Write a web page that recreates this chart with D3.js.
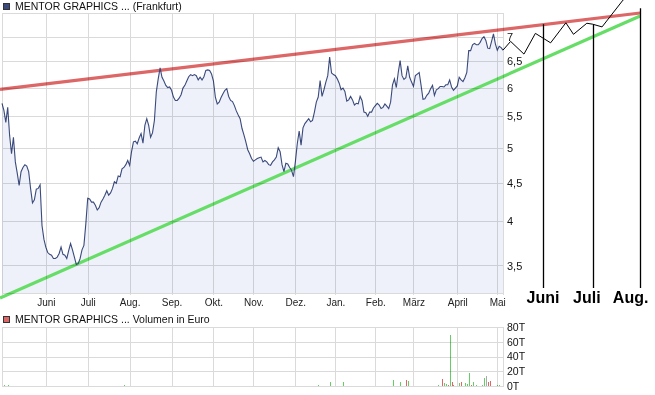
<!DOCTYPE html>
<html>
<head>
<meta charset="utf-8">
<script src="https://cdn.jsdelivr.net/npm/d3@7"></script>
<style>
  body { margin: 0; background: #fff; }
  svg { display: block; font-family: "Liberation Sans", Arial, sans-serif; }
</style>
</head>
<body>
<div id="container"></div>
<script>
let w = 655;
let h = 395;

// quote calendar: weekdays, minus days without quotes
let firstQuote = "2010-04-29";
let calendarEnd = "2011-08-31";
let noQuoteDays = ["2010-12-24", "2010-12-31"];

// daily closes in EUR, one per quote day from firstQuote
let closes = [
  5.72, 5.60, 5.40, 5.65, 5.19, 4.91, 5.16, 4.79, 4.63, 4.46,
  4.65, 4.71, 4.75, 4.73, 4.65, 4.42, 4.23, 4.27, 4.41, 4.42,
  4.47, 3.95, 3.79, 3.70, 3.64, 3.62, 3.61, 3.575, 3.575, 3.59,
  3.63, 3.70, 3.62, 3.61, 3.575, 3.66, 3.74, 3.67, 3.59, 3.51,
  3.52, 3.575, 3.67, 3.72, 3.97, 4.29, 4.28, 4.24, 4.24, 4.20,
  4.14, 4.17, 4.24, 4.28, 4.33, 4.39, 4.33, 4.36, 4.42, 4.51,
  4.49, 4.59, 4.58, 4.69, 4.71, 4.75, 4.81, 4.74, 4.94, 5.09,
  5.10, 5.06, 5.15, 5.22, 5.07, 5.35, 5.46, 5.35, 5.16, 5.23,
  5.43, 5.92, 6.16, 6.37, 6.19, 6.12, 6.04, 6.00, 6.01, 5.95,
  5.83, 5.77, 5.77, 5.81, 5.87, 5.99, 6.04, 6.12, 6.20, 6.24,
  6.22, 6.24, 6.22, 6.14, 6.19, 6.14, 6.20, 6.32, 6.33, 6.32,
  6.25, 6.12, 5.83, 5.71, 5.74, 5.82, 5.89, 5.95, 5.98, 5.84,
  5.77, 5.75, 5.68, 5.59, 5.52, 5.46, 5.30, 5.20, 5.09, 4.97,
  4.91, 4.84, 4.80, 4.82, 4.84, 4.85, 4.86, 4.79, 4.81, 4.79,
  4.75, 4.74, 4.79, 4.82, 4.86, 5.00, 4.94, 4.75, 4.65, 4.77,
  4.76, 4.71, 4.67, 4.58, 4.79, 5.06, 5.26, 5.04, 5.31, 5.38,
  5.42, 5.46, 5.41, 5.43, 5.57, 5.74, 5.83, 6.13, 5.84, 5.96,
  6.10, 6.22, 6.58, 6.27, 6.24, 6.22, 6.16, 6.08, 5.96, 5.99,
  5.93, 5.76, 5.78, 5.84, 5.78, 5.69, 5.72, 5.71, 5.84, 5.77,
  5.57, 5.56, 5.50, 5.57, 5.57, 5.64, 5.68, 5.72, 5.69, 5.63,
  5.65, 5.71, 5.67, 5.63, 5.74, 6.05, 6.16, 6.00, 6.28, 6.51,
  6.22, 6.15, 6.18, 6.41, 6.19, 6.10, 6.02, 6.22, 6.25, 6.28,
  6.04, 5.79, 5.80, 5.86, 5.90, 5.98, 6.04, 5.86, 5.96, 5.98,
  6.02, 6.02, 6.01, 6.05, 6.05, 6.14, 6.01, 5.95, 5.99, 6.03,
  6.19, 6.14, 6.11, 6.18, 6.28, 6.71, 6.71, 6.83, 6.86, 6.83,
  6.83, 6.88, 6.96, 7.00, 6.92, 6.76, 6.75, 6.90, 7.06, 6.85,
  6.72, 6.80, 6.77, 6.72
];

let monthLabels = ["Juni", "Juli", "Aug.", "Sep.", "Okt.", "Nov.", "Dez.", "Jan.", "Feb.", "März", "April", "Mai"];
let monthStarts = ["2010-06-01", "2010-07-01", "2010-08-01", "2010-09-01", "2010-10-01", "2010-11-01",
                   "2010-12-01", "2011-01-01", "2011-02-01", "2011-03-01", "2011-04-01", "2011-05-01"];
let priceTicks = [3.5, 4, 4.5, 5, 5.5, 6, 6.5, 7];
let volTicks = [0, 20, 40, 60, 80];

// volume in thousand EUR; g = up day, r = down day, n = unchanged
let volDates = ["2010-04-30", "2010-05-04", "2010-07-28", "2010-12-17", "2010-12-28", "2011-01-07",
                "2011-02-14", "2011-02-18", "2011-02-23", "2011-02-24", "2011-03-18", "2011-03-22",
                "2011-03-23", "2011-03-24", "2011-03-25", "2011-03-28", "2011-03-29", "2011-03-30",
                "2011-04-04", "2011-04-05", "2011-04-07", "2011-04-08", "2011-04-11", "2011-04-12",
                "2011-04-13", "2011-04-15", "2011-04-20", "2011-04-21", "2011-04-22", "2011-04-25",
                "2011-04-26", "2011-05-02", "2011-05-03"];
let volValues = [1.3, 1.3, 1.3, 1.3, 4.9, 4.9,
                 8.1, 4.9, 8.1, 6.7, 1.3, 9.4,
                 4.0, 2.7, 1.3, 68.7, 5.8, 1.8,
                 4.0, 5.4, 4.0, 3.1, 17.5, 1.3,
                 5.8, 1.3, 1.3, 11.2, 13.5, 5.8,
                 6.7, 1.3, 1.3];
let volDir = ["g", "g", "g", "g", "g", "g",
              "g", "g", "r", "g", "g", "r",
              "g", "g", "r", "g", "r", "r",
              "g", "r", "g", "g", "g", "r",
              "g", "g", "g", "g", "n", "r",
              "r", "g", "g"];

// hand drawn trend lines: [date, price]
let resistance = [["2010-04-29", 5.97], ["2011-08-15", 7.52]];
let support = [["2010-04-29", 3.18], ["2011-08-15", 7.45]];

// hand drawn projection after the last close
let projDates = ["2011-05-11", "2011-05-20", "2011-05-30", "2011-06-09", "2011-06-21", "2011-06-27",
                 "2011-07-06", "2011-07-11", "2011-07-18", "2011-08-02", "2011-08-05"];
let projValues = [6.90, 6.64, 7.07, 6.87, 7.30, 7.05, 7.29, 7.27, 7.21, 7.82, 7.94];
let projMonths = ["Juni", "Juli", "Aug."];
let projMonthDates = ["2011-06-03", "2011-07-11", "2011-08-15"];
let projMonthTops = [7.27, 7.27, 7.63];
let projLabelDates = ["2011-06-03", "2011-07-06", "2011-08-08"];

// ---------------------------------------------------------------
let parse = d3.utcParse("%Y-%m-%d");
let fmt = d3.utcFormat("%Y-%m-%d");
let days = d3.utcDays(parse(firstQuote), d3.utcDay.offset(parse(calendarEnd), 1))
  .filter(d => d.getUTCDay() % 6 !== 0 && !noQuoteDays.includes(fmt(d)));
let dayIndex = new Map(days.map((d, i) => [fmt(d), i]));

// first quote day on or after a date
function idx(s){
  let d = parse(s);
  while(!dayIndex.has(fmt(d))) d = d3.utcDay.offset(d, 1);
  return dayIndex.get(fmt(d));
}

let locale = d3.formatLocale({decimal: ",", thousands: ".", grouping: [3], currency: ["", " €"]});
let numFmt = locale.format("~g");

let plot = {left: 2, right: 503, top: 13, bottom: 293};
let vol = {top: 327, bottom: 386};

let viz = d3.select("#container")
  .append("svg")
    .attr("width", w)
    .attr("height", h)
;

let xScale = d3.scaleLinear().domain([0, closes.length - 1]).range([plot.left, plot.right]);
let yScale = d3.scaleLog().domain([3.22, 7.52]).range([plot.bottom, plot.top]);
let vScale = d3.scaleLinear().domain([0, 80]).range([vol.bottom, vol.top]);

let gridColor = "#dadada";
let monthIdx = monthStarts.map(idx);

// grid as 1px rects; multiply so it sits visually under the lines
function drawGrid(top, bottom, hValues, scale, extra){
  let g = viz.append("g").style("mix-blend-mode", "multiply").attr("fill", gridColor);
  let left = Math.round(plot.left), right = Math.round(plot.right);
  let hs = [top, bottom].concat(hValues.map(scale)).map(Math.round);
  g.selectAll("rect.h").data(hs).enter()
    .append("rect").attr("class", "h")
    .attr("x", left).attr("width", right - left + 1)
    .attr("y", d => d).attr("height", 1);
  let vs = [plot.left, plot.right].concat(monthIdx.map(xScale)).map(Math.round);
  g.selectAll("rect.v").data(vs).enter()
    .append("rect").attr("class", "v")
    .attr("x", d => d).attr("width", 1)
    .attr("y", Math.round(top)).attr("height", Math.round(bottom - top) + extra);
  return g;
}

// ---- price panel
let area = d3.area()
  .x((d, i) => xScale(i))
  .y0(plot.bottom)
  .y1(d => yScale(d));
viz.append("path").datum(closes)
  .attr("d", area)
  .attr("fill", "#eef1f9");

function trend(anchors, color){
  let p = anchors.map(a => [xScale(idx(a[0])), yScale(a[1])]);
  let slope = (p[1][1] - p[0][1]) / (p[1][0] - p[0][0]);
  let start = [0, p[0][1] - slope * p[0][0]];
  viz.append("path")
    .datum([start, p[1]])
    .attr("d", d3.line())
    .attr("fill", "none")
    .attr("stroke", color)
    .attr("stroke-width", 3.2);
}
trend(resistance, "#dd6666");
trend(support, "#66dd66");

let priceLine = d3.line()
  .x((d, i) => xScale(i))
  .y(d => yScale(d));
viz.append("path").datum(closes)
  .attr("d", priceLine)
  .attr("fill", "none")
  .attr("stroke", "#3a4a7c")
  .attr("stroke-width", 1.1);

let yAxis = d3.axisRight(yScale)
  .tickValues(priceTicks)
  .tickFormat(numFmt)
  .tickSize(0)
  .tickPadding(4);
let yAxisGroup = viz.append("g")
  .attr("transform", "translate(" + plot.right + ",0)")
  .call(yAxis);
yAxisGroup.select(".domain").remove();
yAxisGroup.selectAll("text").attr("font-size", 11).attr("font-family", "Liberation Sans, Arial, sans-serif").attr("fill", "#111");

let xAxis = d3.axisBottom(xScale)
  .tickValues(monthIdx)
  .tickFormat((d, i) => monthLabels[i])
  .tickSize(0)
  .tickPadding(6);
let xAxisGroup = viz.append("g")
  .attr("transform", "translate(0," + plot.bottom + ")")
  .call(xAxis);
xAxisGroup.select(".domain").remove();
xAxisGroup.selectAll("text").attr("font-size", 10).attr("font-family", "Liberation Sans, Arial, sans-serif").attr("fill", "#222");

// ---- titles
function legend(y, color, label){
  viz.append("rect")
    .attr("x", 3.5).attr("y", y + 0.5).attr("width", 6).attr("height", 6)
    .attr("fill", color).attr("stroke", "#333");
  viz.append("text")
    .attr("x", 15).attr("y", y + 7)
    .attr("font-size", 10.5).attr("fill", "#111")
    .text(label);
}
legend(3, "#3a4a7c", "MENTOR GRAPHICS ... (Frankfurt)");
legend(316, "#dd6666", "MENTOR GRAPHICS ... Volumen in Euro");

// ---- volume panel
let dirColor = {g: "#66cc66", r: "#dd6666", n: "#aaaaaa"};
viz.append("g").selectAll("rect").data(volDates).enter()
  .append("rect")
  .attr("x", d => Math.round(xScale(idx(d))))
  .attr("width", 1.2)
  .attr("y", (d, i) => vScale(volValues[i]))
  .attr("height", (d, i) => vol.bottom - vScale(volValues[i]))
  .attr("fill", (d, i) => dirColor[volDir[i]])
  .attr("shape-rendering", "crispEdges");

let vAxis = d3.axisRight(vScale)
  .tickValues(volTicks)
  .tickFormat(d => d + "T")
  .tickSize(0)
  .tickPadding(4);
let vAxisGroup = viz.append("g")
  .attr("transform", "translate(" + plot.right + ",0)")
  .call(vAxis);
vAxisGroup.select(".domain").remove();
vAxisGroup.selectAll("text").attr("font-size", 10.5).attr("font-family", "Liberation Sans, Arial, sans-serif").attr("fill", "#111");

// ---- grids on top, multiplied
drawGrid(plot.top, plot.bottom, priceTicks, yScale, 2);
drawGrid(vol.top, vol.bottom, volTicks.slice(1, -1), vScale, 0);

// ---- hand drawn projection
let last = closes.length - 1;
let proj = [[last, closes[last]]].concat(projDates.map((d, i) => [idx(d), projValues[i]]));
viz.append("path")
  .datum(proj)
  .attr("d", d3.line().x(d => xScale(d[0])).y(d => yScale(d[1])))
  .attr("fill", "none")
  .attr("stroke", "#000")
  .attr("stroke-width", 1);

viz.selectAll(".projline").data(projMonthDates).enter()
  .append("line").attr("class", "projline")
  .attr("x1", d => Math.round(xScale(idx(d))) + 0.5).attr("x2", d => Math.round(xScale(idx(d))) + 0.5)
  .attr("y1", (d, i) => yScale(projMonthTops[i]))
  .attr("y2", plot.bottom - 5)
  .attr("stroke", "#000")
  .attr("stroke-width", 1.3);

viz.selectAll(".projlabel").data(projLabelDates).enter()
  .append("text").attr("class", "projlabel")
  .attr("x", d => xScale(idx(d)))
  .attr("y", plot.bottom + 10)
  .attr("text-anchor", "middle")
  .attr("font-size", 16)
  .attr("font-weight", "bold")
  .attr("fill", "#000")
  .text((d, i) => projMonths[i]);
</script>
</body>
</html>
